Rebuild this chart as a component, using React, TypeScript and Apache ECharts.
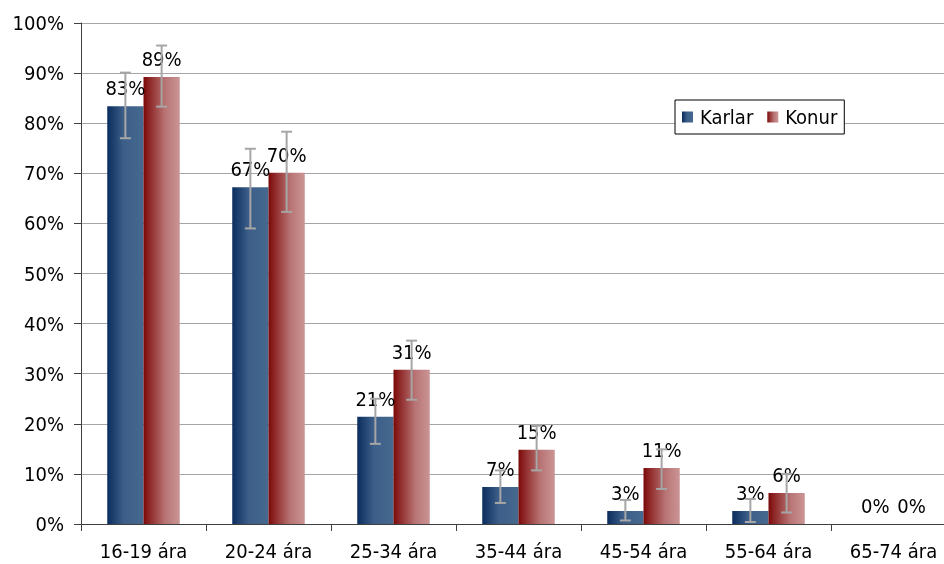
import React, { useEffect, useRef } from "react";
import * as echarts from "echarts";

const categories = ["16-19 ára", "20-24 ára", "25-34 ára", "35-44 ára", "45-54 ára", "55-64 ára", "65-74 ára"];
const seriesNames = ["Karlar", "Konur"];
const karlar = [83.4, 67.2, 21.4, 7.4, 2.6, 2.6, 0];
const konur = [89.2, 70.1, 30.8, 14.8, 11.2, 6.2, 0];
const karlarLow = [77, 59, 16, 4.2, 0.7, 0.4, null];
const karlarHigh = [90.1, 74.9, 25, 10.7, 4.8, 5, null];
const konurLow = [83.3, 62.3, 24.8, 10.7, 7, 2.3, null];
const konurHigh = [95.5, 78.3, 36.6, 19.6, 14.9, 10, null];
const yTicks = { min: 0, max: 100, interval: 10 };

const FONT = "'DejaVu Sans Condensed', 'Liberation Sans', sans-serif";
const FS = 20;
const CAT_GAP = 0.42;

const blueGrad = new echarts.graphic.LinearGradient(0, 0, 1, 0, [
  { offset: 0, color: "#0a2d5e" },
  { offset: 0.45, color: "#3c5e88" },
  { offset: 1, color: "#46698f" },
]);
const redGrad = new echarts.graphic.LinearGradient(0, 0, 1, 0, [
  { offset: 0, color: "#780808" },
  { offset: 0.12, color: "#8a1f1f" },
  { offset: 0.6, color: "#b87474" },
  { offset: 1, color: "#cb9595" },
]);

function errorSeries(low: (number | null)[], high: (number | null)[], side: number) {
  const data = low
    .map((l, i) => (l === null || high[i] === null ? null : [i, l, high[i]]))
    .filter((d) => d !== null);
  return {
    type: "custom",
    name: "err" + side,
    z: 5,
    silent: true,
    encode: { x: 0, y: [1, 2] },
    data,
    renderItem: (params: any, api: any) => {
      const idx = api.value(0);
      const band = api.size([1, 0])[0];
      const barW = (band * (1 - CAT_GAP)) / 2;
      const off = (side * barW) / 2;
      const pHigh = api.coord([idx, api.value(2)]);
      const pLow = api.coord([idx, api.value(1)]);
      const x = pHigh[0] + off;
      const cap = 5.5;
      const style = { stroke: "#a6a6a6", lineWidth: 2 };
      return {
        type: "group",
        children: [
          { type: "line", shape: { x1: x, y1: pHigh[1], x2: x, y2: pLow[1] }, style },
          { type: "line", shape: { x1: x - cap, y1: pHigh[1], x2: x + cap, y2: pHigh[1] }, style },
          { type: "line", shape: { x1: x - cap, y1: pLow[1], x2: x + cap, y2: pLow[1] }, style },
        ],
      };
    },
  };
}

export default function App() {
  const ref = useRef<HTMLDivElement>(null);
  useEffect(() => {
    document.body.style.margin = "0";
    const chart = echarts.init(ref.current!, null, { renderer: "svg" });
    const label = {
      show: true,
      position: "top",
      distance: 8,
      fontSize: FS,
      fontFamily: FONT,
      color: "#000",
      formatter: (p: any) => Math.round(p.value) + "%",
    };
    chart.setOption({
      animation: false,
      textStyle: { fontFamily: FONT },
      grid: { left: 81, right: 4, top: 23, bottom: 40 },
      legend: {
        data: seriesNames,
        left: 675,
        top: 100,
        itemWidth: 11,
        itemHeight: 11,
        itemGap: 14,
        padding: [7, 7],
        icon: "rect",
        borderColor: "#000",
        borderWidth: 1,
        backgroundColor: "#fff",
        textStyle: { fontSize: FS, color: "#000", fontFamily: FONT, padding: [0, 0, 0, 2] },
      },
      xAxis: {
        type: "category",
        data: categories,
        axisLine: { lineStyle: { color: "#404040", width: 1 } },
        axisTick: { show: true, length: 7, lineStyle: { color: "#404040" } },
        axisLabel: { fontSize: FS, color: "#000", fontFamily: FONT, margin: 17 },
      },
      yAxis: {
        type: "value",
        min: yTicks.min,
        max: yTicks.max,
        interval: yTicks.interval,
        axisLine: { show: true, lineStyle: { color: "#404040", width: 1 } },
        axisTick: { show: true, length: 7, lineStyle: { color: "#404040" } },
        axisLabel: { fontSize: FS, color: "#000", fontFamily: FONT, margin: 17, formatter: "{value}%" },
        splitLine: { lineStyle: { color: "#a6a6a6", width: 1 } },
      },
      series: [
        {
          type: "bar",
          name: seriesNames[0],
          data: karlar,
          barGap: "0%",
          barCategoryGap: CAT_GAP * 100 + "%",
          itemStyle: { color: blueGrad },
          label,
        },
        {
          type: "bar",
          name: seriesNames[1],
          data: konur,
          barGap: "0%",
          barCategoryGap: CAT_GAP * 100 + "%",
          itemStyle: { color: redGrad },
          label,
        },
        errorSeries(karlarLow, karlarHigh, -1),
        errorSeries(konurLow, konurHigh, 1),
      ],
    });
    return () => chart.dispose();
  }, []);
  return (
    <div style={{ position: "fixed", left: 0, top: 0, width: 944, height: 564, overflow: "hidden" }}>
      <div ref={ref} style={{ width: 960, height: 564 }} />
    </div>
  );
}
